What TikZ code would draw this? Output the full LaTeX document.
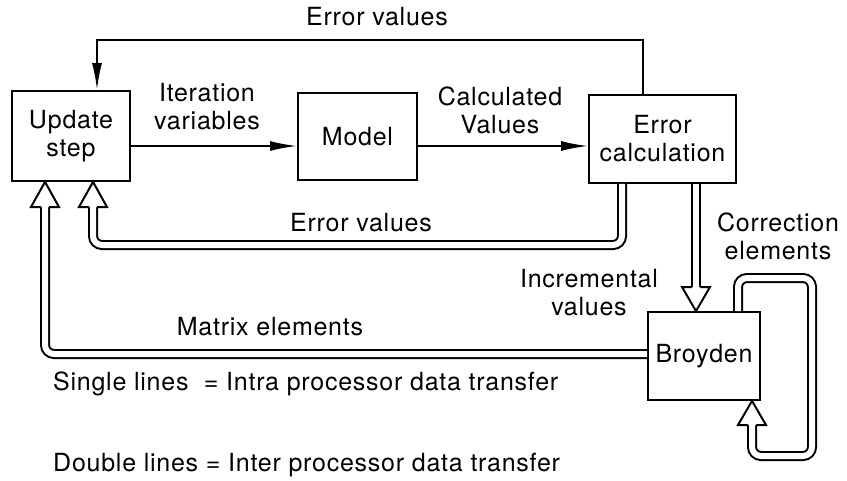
\documentclass[tikz,border=0pt]{standalone}
\usepackage{fontspec}
\setmainfont{TeX Gyre Heros}[LetterSpace=3]
\usetikzlibrary{arrows.meta,calc}
\tikzset{
  lbl/.style={inner sep=0pt, align=center, font=\fontsize{25}{28}\selectfont},
  blk/.style={draw, line width=1.8pt, align=center, inner sep=0pt, font=\fontsize{25}{28}\selectfont},
  sgl/.style={line width=2pt, line join=miter, -{Latex[length=27pt,width=10pt]}},
  dbl/.style={line width=2pt, double=white, double distance=6pt, rounded corners=9pt},
  headst/.style={line width=2pt, fill=white, line join=miter}
}
\newcommand\ohead[2]{\draw[headst] ($(#1)!4pt!90:(#2)$) -- ($(#1)!14pt!90:(#2)$) -- (#2) -- ($(#1)!14pt!-90:(#2)$) -- ($(#1)!4pt!-90:(#2)$);}
\begin{document}
\begin{tikzpicture}[x=1pt,y=-1pt]
\useasboundingbox[fill=white] (0,0) rectangle (847,480);

% blocks
\node[blk, minimum width=118pt, minimum height=90pt] (upd) at (71,136) {Update\\step};
\node[blk, minimum width=119pt, minimum height=87pt] (model) at (357.5,136.5) {Model};
\node[blk, minimum width=147pt, minimum height=88pt] (err) at (662.5,139) {Error\\calculation};
\node[blk, minimum width=112pt, minimum height=88pt] (broy) at (704,356) {Broyden};

% helper coordinates
\coordinate (arY) at (0,146);
\coordinate (fbR) at (643,40);
\coordinate (fbL) at (97,40);
\coordinate (evA) at (622,245);
\coordinate (evB) at (93,245);
\coordinate (evH) at (93,207);
\coordinate (mxA) at (45,354);
\coordinate (mxH) at (45,207);
\coordinate (crA) at (696,287);
\coordinate (sl1) at (738,278);
\coordinate (sl2) at (812,278);
\coordinate (sl3) at (812,456);
\coordinate (sl4) at (752,456);
\coordinate (sl5) at (752,425);

% single lines
\draw[sgl] (err.north -| fbR) -- (fbR) -- (fbL) -- (upd.north -| fbL);
\draw[sgl] (upd.east |- arY) -- (model.west |- arY);
\draw[sgl] (model.east |- arY) -- (err.west |- arY);

% double lines
\draw[dbl] (err.south -| evA) -- (evA) -- (evB) -- (evH);
\ohead{evH}{upd.south -| evH}
\draw[dbl] (broy.west |- mxA) -- (mxA) -- (mxH);
\ohead{mxH}{upd.south -| mxH}
\draw[dbl] (err.south -| crA) -- (crA);
\ohead{crA}{broy.north -| crA}
\draw[dbl] (broy.north -| sl1) -- (sl1) -- (sl2) -- (sl3) -- (sl4) -- (sl5);
\ohead{sl5}{broy.south -| sl5}

% labels
\node[lbl] (lEv1) at (377,17) {Error values};
\node[lbl] (lIt) at (207,107) {Iteration\\variables};
\node[lbl] (lCv) at (500,110) {Calculated\\Values};
\node[lbl] (lEv2) at (361,223) {Error values};
\node[lbl] (lCe) at (778,236) {Correction\\elements};
\node[lbl] (lIv) at (589,293) {Incremental\\values};
\node[lbl] (lMx) at (270,327) {Matrix elements};
\node[lbl, anchor=west] (leg1) at (53,384) {Single lines\ \ = Intra processor data transfer};
\node[lbl, anchor=west] (leg2) at (53,465) {Double lines = Inter processor data transfer};
\end{tikzpicture}
\end{document}
